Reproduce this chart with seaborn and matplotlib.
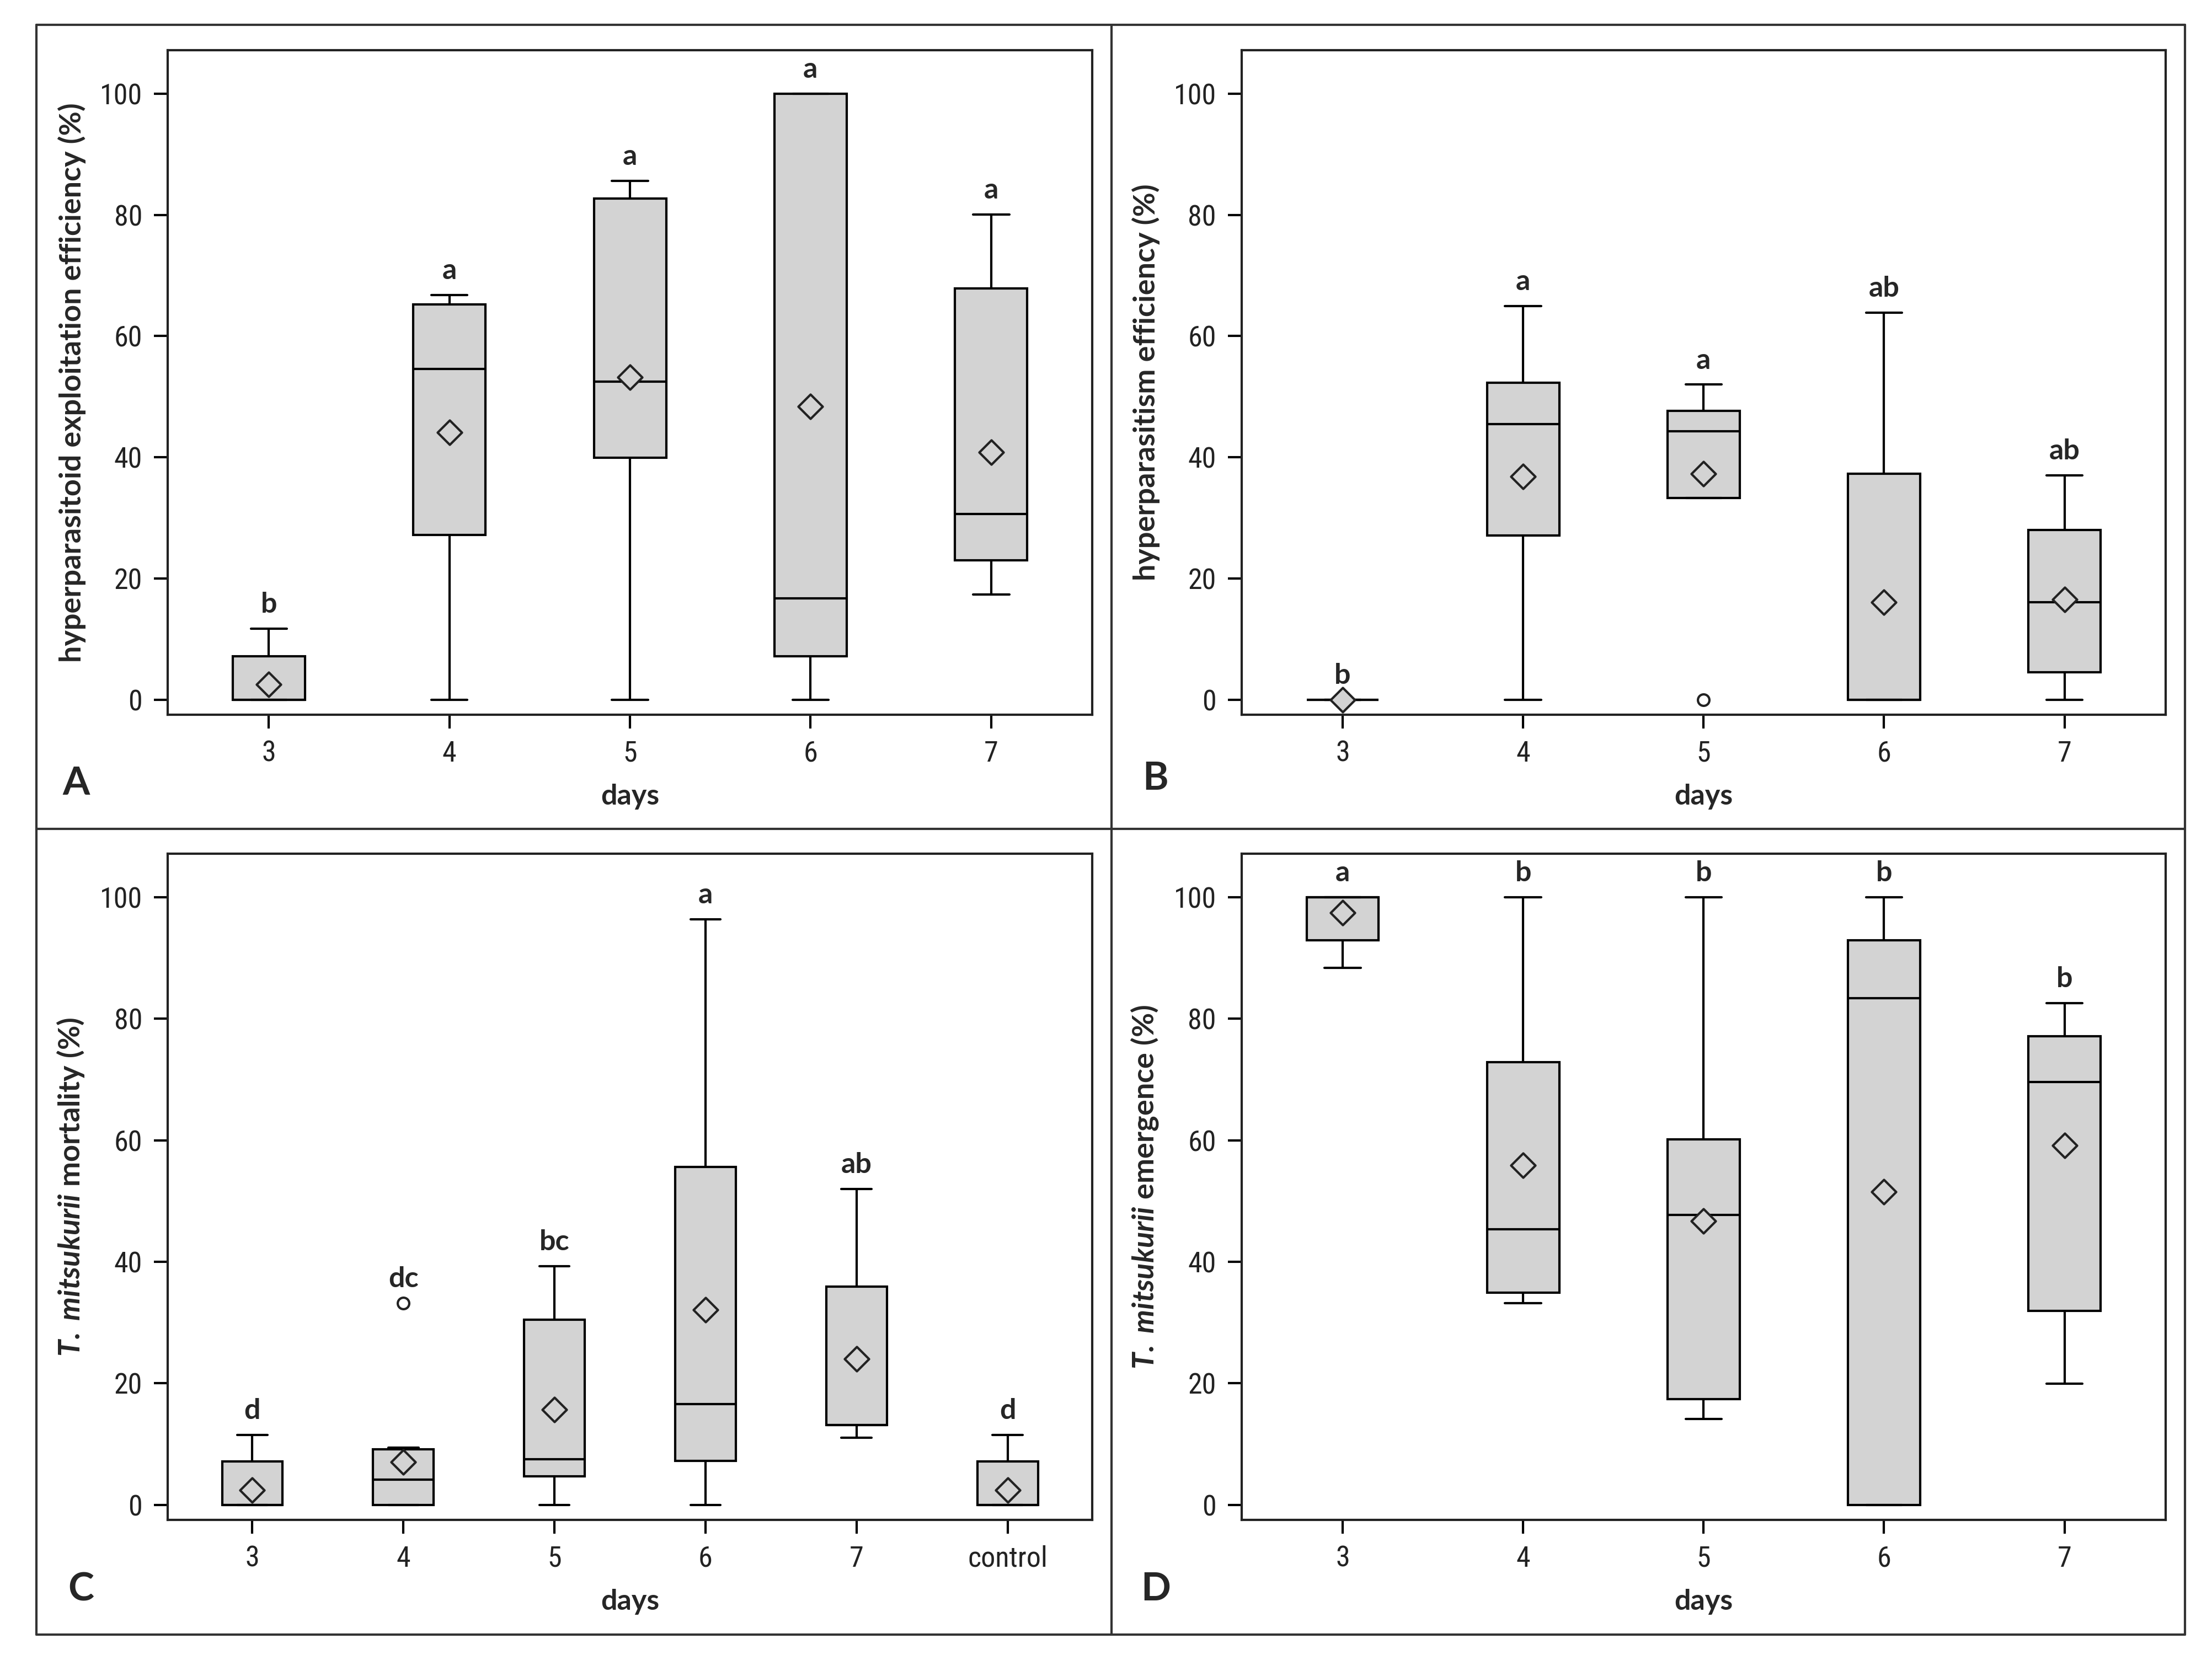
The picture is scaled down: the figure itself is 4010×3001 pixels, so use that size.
import pandas as pd
import matplotlib.pyplot as plt
import seaborn as sns
from matplotlib import font_manager
from matplotlib.lines import Line2D

# five-number summaries: min, q1, median, q3, max
days = ['3', '4', '5', '6', '7']
days_c = ['3', '4', '5', '6', '7', 'control']

exploit_stats = [[0, 0, 0, 7.2, 11.7],
                 [0, 27.2, 54.6, 65.2, 66.8],
                 [0, 39.9, 52.5, 82.7, 85.6],
                 [0, 7.2, 16.7, 100, 100],
                 [17.4, 23.0, 30.6, 67.9, 80.1]]
exploit_means = [2.5, 44.1, 53.2, 48.4, 40.8]
exploit_letters = ['b', 'a', 'a', 'a', 'a']

hyper_stats = [[0, 0, 0, 0, 0],
               [0, 27.1, 45.5, 52.3, 65.0],
               [33.3, 33.3, 44.3, 47.7, 52.0],
               [0, 0, 0, 37.3, 63.9],
               [0, 4.5, 16.1, 28.0, 37.0]]
hyper_means = [0, 36.8, 37.3, 16.1, 16.5]
hyper_letters = ['b', 'a', 'a', 'ab', 'ab']
hyper_out_days = ['5']
hyper_out_vals = [0]

mort_stats = [[0, 0, 0, 7.1, 11.5],
              [0, 0, 4.1, 9.1, 9.4],
              [0, 4.7, 7.5, 30.5, 39.3],
              [0, 7.2, 16.6, 55.6, 96.4],
              [11.0, 13.1, 13.1, 35.9, 52.0],
              [0, 0, 0, 7.1, 11.5]]
mort_means = [2.4, 7.0, 15.7, 32.1, 24.0, 2.4]
mort_letters = ['d', 'dc', 'bc', 'a', 'ab', 'd']
mort_out_days = ['4']
mort_out_vals = [33.2]

emerg_stats = [[88.4, 92.9, 100, 100, 100],
               [33.2, 34.9, 45.4, 72.9, 100],
               [14.1, 17.4, 47.7, 60.2, 100],
               [0, 0, 83.4, 92.9, 100],
               [19.9, 31.9, 69.6, 77.1, 82.6]]
emerg_means = [97.5, 55.9, 46.7, 51.5, 59.2]
emerg_letters = ['a', 'b', 'b', 'b', 'b']

sns.set_style('ticks')
plt.rcParams['font.family'] = ['Lato', 'DejaVu Sans']
plt.rcParams['mathtext.fontset'] = 'custom'
plt.rcParams['mathtext.it'] = 'Lato:italic:bold'
plt.rcParams['mathtext.rm'] = 'Lato:bold'

BOX = '#d3d3d3'
installed = {f.name for f in font_manager.fontManager.ttflist}
TICKFONT = [f for f in ['Liberation Sans Narrow', 'Roboto Condensed',
                        'Open Sans Condensed', 'Roboto'] if f in installed][:1] + ['DejaVu Sans']


def panel(ax, cats, stats, means, letters, ylabel, out_days=None, out_vals=None):
    df = pd.DataFrame([(c, v) for c, s in zip(cats, stats) for v in s],
                      columns=['day', 'value'])
    sns.boxplot(data=df, x='day', y='value', order=cats, whis=(0, 100),
                width=0.4, color=BOX, linecolor='black', linewidth=1.0,
                showfliers=False, ax=ax)
    sns.stripplot(x=cats, y=means, order=cats, jitter=False, marker='D',
                  color=BOX, edgecolor='#222222', linewidth=1.0, size=7.5,
                  ax=ax, zorder=4)
    if out_days:
        sns.stripplot(x=out_days, y=out_vals, order=cats, jitter=False,
                      marker='o', color='white', edgecolor='#222222',
                      linewidth=1.0, size=5, ax=ax, zorder=4)
    for i, (s, m, lab) in enumerate(zip(stats, means, letters)):
        extra = [v for d, v in zip(out_days or [], out_vals or []) if d == cats[i]]
        top = max([s[-1], m] + extra)
        ax.text(i, top + 1.8, lab, ha='center', va='bottom',
                fontsize=12.5, fontweight='bold')
    n = len(cats)
    ax.set_xlim(-0.56, n - 0.44)
    ax.set_ylim(-2.5, 107.2)
    ax.set_yticks([0, 20, 40, 60, 80, 100])
    ax.set_xlabel('days', fontsize=12.5, fontweight='bold', labelpad=7)
    ax.set_ylabel(ylabel, fontsize=13, fontweight='bold', labelpad=6)
    ax.tick_params(length=6, width=1.0, color='black', labelsize=12.5,
                   labelcolor='#222222', pad=5)
    for lab in ax.get_xticklabels() + ax.get_yticklabels():
        lab.set_family(TICKFONT)
    for sp in ax.spines.values():
        sp.set_visible(True)
        sp.set_color('#222222')
        sp.set_linewidth(1.0)


fig = plt.figure(figsize=(4010 / 300, 3001 / 300), dpi=300)
axA = fig.add_axes([0.0758, 0.5681, 0.418, 0.4016])
axB = fig.add_axes([0.5613, 0.5681, 0.4177, 0.4016])
axC = fig.add_axes([0.0758, 0.0816, 0.418, 0.4026])
axD = fig.add_axes([0.5613, 0.0816, 0.4177, 0.4026])

panel(axA, days, exploit_stats, exploit_means, exploit_letters,
      'hyperparasitoid exploitation efficiency (%)')
panel(axB, days, hyper_stats, hyper_means, hyper_letters,
      'hyperparasitism efficiency (%)', hyper_out_days, hyper_out_vals)
panel(axC, days_c, mort_stats, mort_means, mort_letters,
      r'$\mathit{T.\ mitsukurii}$ mortality (%)', mort_out_days, mort_out_vals)
panel(axD, days, emerg_stats, emerg_means, emerg_letters,
      r'$\mathit{T.\ mitsukurii}$ emergence (%)')

# panel letters
for lab, x, y in [('A', 0.0344, 0.5265), ('B', 0.5224, 0.5298),
                  ('C', 0.0367, 0.0397), ('D', 0.5224, 0.0397)]:
    fig.text(x, y, lab, ha='center', va='center', fontsize=17, fontweight='bold')

# outer frame and dividers
x0, x1, y0, y1 = 0.01646, 0.9878, 0.01233, 0.985
xm, ym = 0.5025, 0.4992
for xs, ys in [([x0, x1], [y0, y0]), ([x0, x1], [y1, y1]),
               ([x0, x0], [y0, y1]), ([x1, x1], [y0, y1]),
               ([xm, xm], [y0, y1]), ([x0, x1], [ym, ym])]:
    fig.add_artist(Line2D(xs, ys, color='#333333', linewidth=1.0))

fig.savefig('out.png', dpi=300)
